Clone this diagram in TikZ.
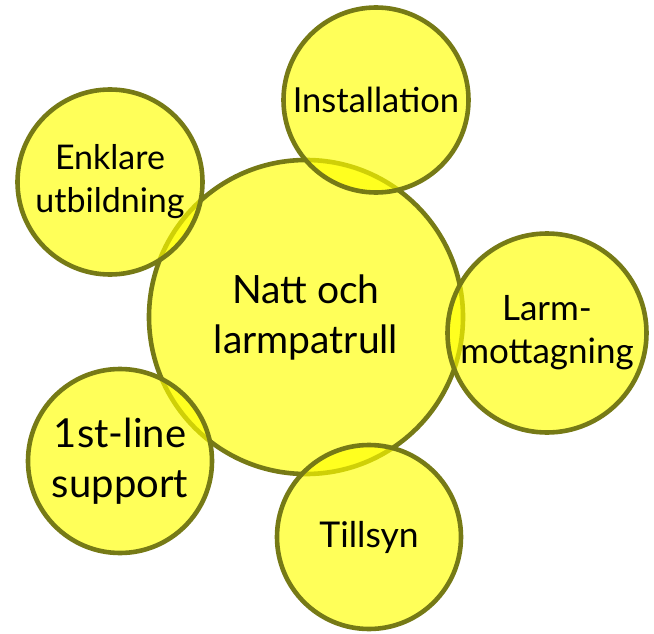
\documentclass[tikz,border=0pt]{standalone}
\usepackage{fontspec}
\setmainfont{Lato}
\usepackage{tikz}

\definecolor{bubbleline}{RGB}{118,122,22}
\definecolor{bubblefill}{RGB}{255,255,0}

\begin{document}
\begin{tikzpicture}[x=1pt, y=-1pt,
    bubble/.style={circle, draw=bubbleline, line width=4.6pt, fill=bubblefill,
      fill opacity=0.65, text opacity=1, inner sep=0pt, align=center}]
    \useasboundingbox (0,0) rectangle (654,634);

    % the hub first, the other circles lie over it
    \node[bubble, minimum size=314pt, font=\fontsize{39}{50}\selectfont] (hub) at (306,317) {Natt och\\larmpatrull};

    \foreach \x/\y/\dia/\fs/\ls/\name/\id in {{376/100/185/34.5/43/{Installation}/inst},
        {110/182/185/34/43/{Enklare\\utbildning}/enkl},
        {547/333/199/35/43/{Larm-\\mottagning}/larm},
        {120/461/184/40/50/{1st-line\\support}/first},
        {369/537/184/35.5/43/{Tillsyn}/tills}}
        \node[bubble, minimum size=\dia pt, font=\fontsize{\fs}{\ls}\selectfont] (\id) at (\x,\y) {\name};

\end{tikzpicture}
\end{document}
